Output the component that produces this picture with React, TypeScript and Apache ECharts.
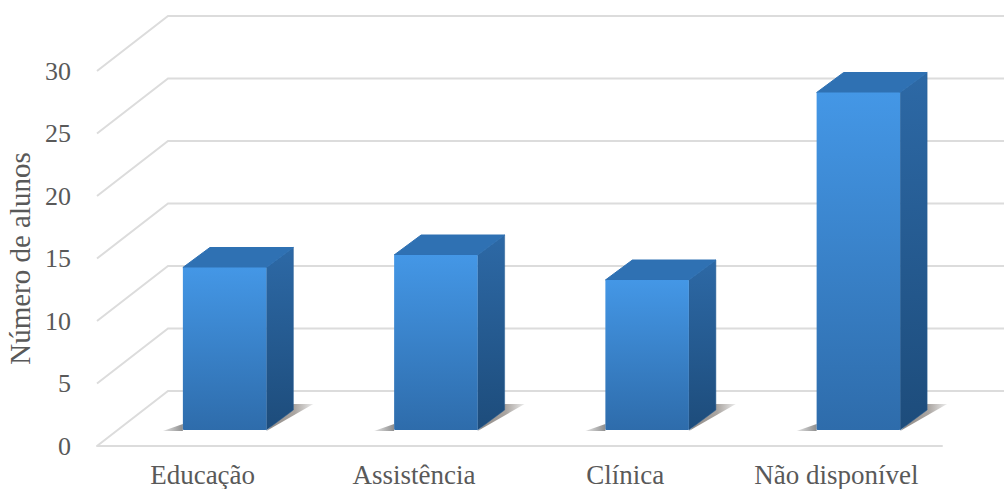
import React, { useEffect, useRef } from "react";
import * as echarts from "echarts";

const categories = ["Educação", "Assistência", "Clínica", "Não disponível"];
const alunos = [13, 14, 12, 27];
const yTicks = [0, 5, 10, 15, 20, 25, 30];
const yAxisTitle = "Número de alunos";

// Oblique projection of the 3D chart box, in pixels
const WALL_DX = 71;
const WALL_DY = -55;
const BAR_DX = 22;
const BAR_DY = -16;
const BAR_W = 83.5;
const DEPTH_X = 27;
const DEPTH_Y = -20;

const GRID_COLOR = "#dcdcdc";
const TEXT_COLOR = "#595959";
const FONT = "'Liberation Serif', 'Times New Roman', serif";

const vGrad = (a: string, b: string) =>
  new echarts.graphic.LinearGradient(0, 0, 0, 1, [
    { offset: 0, color: a },
    { offset: 1, color: b },
  ]);

function renderWallLine(params: any, api: any) {
  const p = api.coord([0, api.value(1)]);
  const x0 = params.coordSys.x;
  const y0 = p[1];
  return {
    type: "polyline",
    silent: true,
    shape: {
      points: [
        [x0, y0],
        [x0 + WALL_DX, y0 + WALL_DY],
        [1004, y0 + WALL_DY],
      ],
    },
    style: { stroke: GRID_COLOR, lineWidth: 2, fill: "none" },
  };
}

function renderBar(_params: any, api: any) {
  const base = api.coord([api.value(0), 0]);
  const head = api.coord([api.value(0), api.value(1)]);
  const l = base[0] + BAR_DX - BAR_W / 2;
  const r = l + BAR_W;
  const b = base[1] + BAR_DY;
  const t = head[1] + BAR_DY;
  const bx = r + DEPTH_X;
  const dy = DEPTH_Y;
  return {
    type: "group",
    children: [
      // Cast shadow on the floor, behind and to the left of the column
      {
        type: "polygon",
        shape: { points: [[r, b + 1], [bx, b + dy - 6], [bx + 20, b + dy - 6]] },
        style: {
          fill: new echarts.graphic.LinearGradient(0, 0, 1, 0, [
            { offset: 0, color: "#8f8a86" },
            { offset: 0.6, color: "#aaa5a1" },
            { offset: 1, color: "#ececec" },
          ]),
        },
      },
      {
        type: "polygon",
        shape: { points: [[l - 20, b + 1], [l, b - 6], [l, b + 1]] },
        style: {
          fill: new echarts.graphic.LinearGradient(0, 0, 1, 0, [
            { offset: 0, color: "#e4e4e4" },
            { offset: 1, color: "#8e8e8e" },
          ]),
        },
      },
      // Side face
      {
        type: "polygon",
        shape: { points: [[r, t], [bx, t + dy], [bx, b + dy], [r, b]] },
        style: {
          fill: vGrad("#2d69a6", "#1d4c7b"),
          stroke: "#265c92",
          lineWidth: 0.5,
          lineJoin: "round",
        },
      },
      // Top face
      {
        type: "polygon",
        shape: { points: [[l, t], [l + DEPTH_X, t + dy], [bx, t + dy], [r, t]] },
        style: { fill: "#2f71b3", stroke: "#2f71b3", lineWidth: 1, lineJoin: "round" },
      },
      // Front face
      {
        type: "rect",
        shape: { x: l, y: t, width: BAR_W, height: b - t, r: 1 },
        style: { fill: vGrad("#4497e6", "#2e6cab") },
      },
    ],
  };
}

export default function App() {
  const ref = useRef<HTMLDivElement>(null);

  useEffect(() => {
    document.body.style.margin = "0";
    const chart = echarts.init(ref.current!, undefined, { renderer: "svg" });
    chart.setOption({
      animation: false,
      backgroundColor: "#ffffff",
      grid: {
        left: 97,
        right: 62,
        top: 71,
        bottom: 43,
        containLabel: false,
        outerBoundsMode: "none",
      },
      xAxis: {
        type: "category",
        data: categories,
        axisTick: { show: false },
        axisLine: { show: true, lineStyle: { color: GRID_COLOR, width: 2 } },
        axisLabel: {
          color: TEXT_COLOR,
          fontFamily: FONT,
          fontSize: 27,
          margin: 15,
          interval: 0,
        },
      },
      yAxis: {
        type: "value",
        min: 0,
        max: 30,
        interval: 5,
        splitLine: { show: false },
        axisLine: { show: false },
        axisTick: { show: false },
        axisLabel: { color: TEXT_COLOR, fontFamily: FONT, fontSize: 26, margin: 26 },
        name: yAxisTitle,
        nameLocation: "middle",
        nameGap: 60,
        nameRotate: 90,
        nameTextStyle: { color: TEXT_COLOR, fontFamily: FONT, fontSize: 29 },
      },
      series: [
        {
          type: "custom",
          name: "grade",
          renderItem: renderWallLine,
          clip: false,
          silent: true,
          z: 1,
          data: yTicks.map((t) => [0, t]),
        },
        {
          type: "custom",
          name: yAxisTitle,
          renderItem: renderBar,
          clip: false,
          z: 2,
          data: alunos.map((v, i) => [i, v]),
        },
      ],
    });
    return () => chart.dispose();
  }, []);

  return <div ref={ref} style={{ width: 1004, height: 489 }} />;
}
